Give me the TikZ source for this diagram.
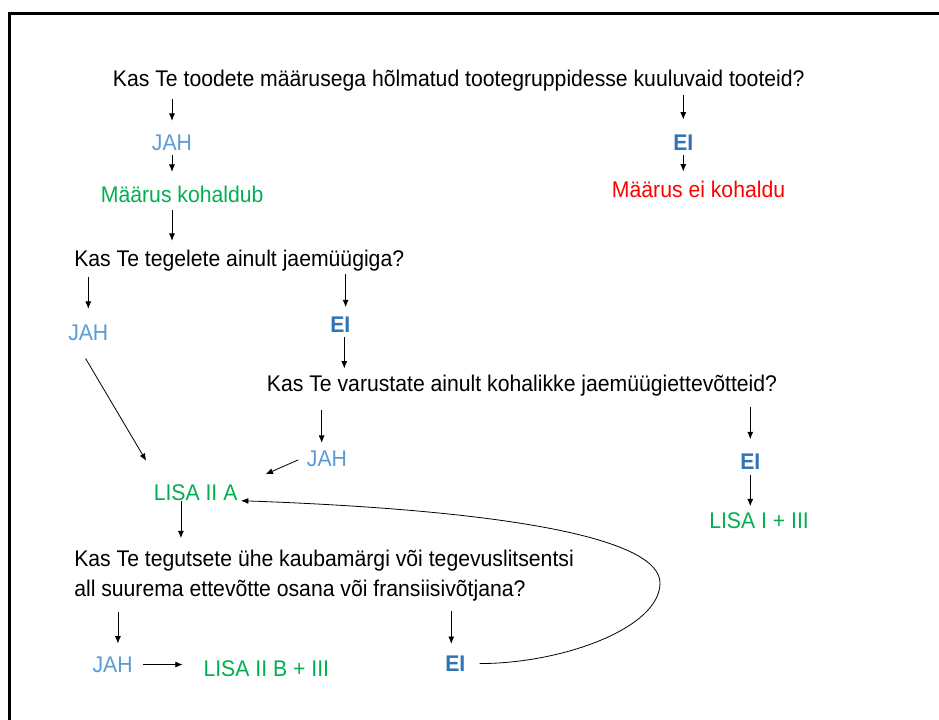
\documentclass[tikz,border=0pt]{standalone}
\usepackage{fontspec}
\setmainfont{Liberation Sans}[FakeStretch=0.935]
\usetikzlibrary{arrows.meta}

\definecolor{jahblue}{HTML}{5B9BD5}
\definecolor{eiblue}{HTML}{2E75B6}
\definecolor{lisagreen}{HTML}{00B050}
\definecolor{eired}{HTML}{FF0000}

\tikzset{
  txt/.style={inner sep=0pt, anchor=base west, text height=12.2pt, text depth=0pt,
    font=\fontsize{17}{23}\selectfont},
  question/.style={txt},
  jah/.style={txt, text=jahblue},
  ei/.style={txt, text=eiblue, font=\fontsize{17}{23}\selectfont\bfseries},
  lisa/.style={txt, text=lisagreen},
  arr/.style={-{Latex[length=5.5pt,width=4.5pt]}, line width=0.6pt},
}

\begin{document}
\begin{tikzpicture}[x=0.75pt,y=-0.75pt]

    \useasboundingbox (0,0) rectangle (939,720);

    % Frame
    \draw[line width=2pt] (9.5,720) -- (9.5,13.8) -- (939,13.8);

    %%%% First question
    \node[question] (q1) at (112.7,86.7) {Kas Te toodete määrusega hõlmatud tootegruppidesse kuuluvaid tooteid?};
    \node[jah] (jahA) at (151.7,150.7) {JAH};
    \node[lisa] (kohaldub) at (100.7,203) {Määrus kohaldub};
    \node[ei] (eiA) at (673,150.7) {EI};
    \node[txt, text=eired] (eikohaldu) at (611.7,198) {Määrus ei kohaldu};

    %%%% Second question
    \node[question] (q2) at (74,266.7) {Kas Te tegelete ainult jaemüügiga?};
    \node[jah] (jahB) at (68,340) {JAH};
    \node[ei] (eiB) at (330,333) {EI};

    %%%% Third question
    \node[question] (q3) at (266.7,391.7) {Kas Te varustate ainult kohalikke jaemüügiettevõtteid?};
    \node[jah] (jahC) at (306.7,466) {JAH};
    \node[ei] (eiC) at (740,469) {EI};
    \node[lisa] (lisaI) at (709,528) {LISA I + III};
    \node[lisa] (lisaIIA) at (153.5,500.7) {LISA II A};

    %%%% Fourth question (placed at the baseline of its last line)
    \node[question, align=left, text height=35.2pt] (q4) at (74,596.7)
        {Kas Te tegutsete ühe kaubamärgi või tegevuslitsentsi\\all suurema ettevõtte osana või fransiisivõtjana?};
    \node[jah] (jahD) at (92.3,672.7) {JAH};
    \node[lisa] (lisaIIB) at (203.3,676.7) {LISA II B + III};
    \node[ei] (eiD) at (445,671.7) {EI};

    % Turning point of the loop back
    \coordinate (loop) at (660,583);

    % Arrows, first question
    \draw[arr, shorten <=9pt, shorten >=10pt] (q1.south -| jahA) -- (jahA.north);
    \draw[arr, shorten <=3pt, shorten >=11pt] (jahA.south) -- (jahA.south |- kohaldub.north);
    \draw[arr, shorten <=5pt, shorten >=7pt] (kohaldub.south -| jahA) -- (jahA |- q2.north);
    \draw[arr, shorten <=6pt, shorten >=11pt] (q1.south -| eiA) -- (eiA.north);
    \draw[arr, shorten <=3pt, shorten >=7.5pt] (eiA.south) -- (eiA.south |- eikohaldu.north);

    % Arrows, second question
    \draw[arr, shorten <=7.5pt, shorten >=11pt] (q2.south -| jahB) -- (jahB.north);
    \draw[arr, shorten <=5pt, shorten >=7pt] ([xshift=4pt]q2.south -| eiB) -- ([xshift=4pt]eiB.north);
    \draw[arr, shorten <=3pt, shorten >=5pt] ([xshift=3pt]eiB.south) -- ([xshift=3pt]eiB.south |- q3.north);
    \draw[arr] ([xshift=-2pt,yshift=-13.7pt]jahB.south) -- ([xshift=-5.5pt,yshift=17.5pt]lisaIIA.north west);

    % Arrows, third question
    \draw[arr, shorten <=13.5pt, shorten >=5pt] ([xshift=-4pt]q3.south -| jahC) -- ([xshift=-4pt]jahC.north);
    \draw[arr] ([xshift=-6.3pt,yshift=-1.5pt]jahC.west) -- ([xshift=21pt,yshift=7.5pt]lisaIIA.north east);
    \draw[arr, shorten <=11pt, shorten >=10pt] (q3.south -| eiC) -- (eiC.north);
    \draw[arr, shorten <=4.5pt, shorten >=4pt] (eiC.south) -- (eiC.south |- lisaI.north);
    \draw[arr, shorten >=8.5pt] ([xshift=-11pt]lisaIIA.south) -- ([xshift=-11pt]lisaIIA.south |- q4.north);

    % Arrows, fourth question
    \draw[arr, shorten <=11pt, shorten >=9.5pt] ([xshift=4pt]q4.south -| jahD) -- ([xshift=4pt]jahD.north);
    \draw[arr, shorten <=10.5pt, shorten >=8.5pt] ([xshift=-3pt]q4.south -| eiD) -- ([xshift=-3pt]eiD.north);
    \draw[arr, shorten <=7.5pt, shorten >=15.5pt] (jahD.east) -- (jahD.east -| lisaIIB.west);
    \draw[arr] ([xshift=10.5pt]eiD.east) .. controls +(83,0) and +(0,45) .. (loop)
        .. controls +(0,-43) and +(278,10) .. ([xshift=2.5pt]lisaIIA.base east);

\end{tikzpicture}
\end{document}
